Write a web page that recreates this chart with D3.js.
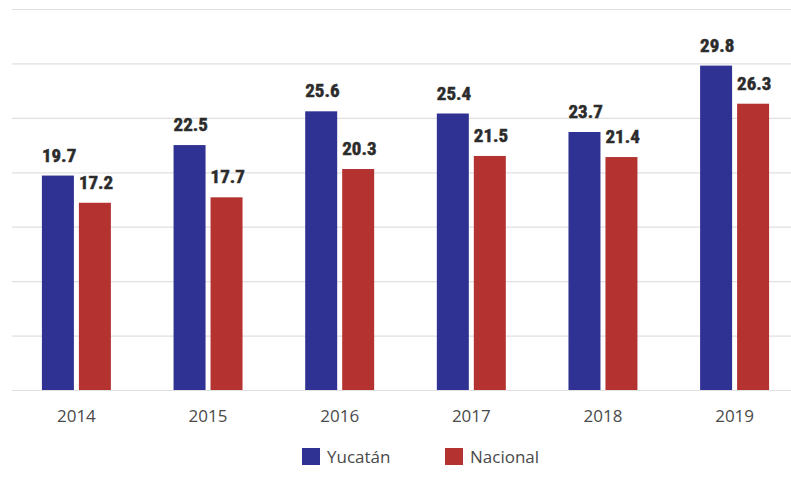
<!DOCTYPE html>
<html>
<head>
<meta charset="utf-8">
<script src="https://cdn.jsdelivr.net/npm/d3@7"></script>
<style>
  html, body { margin: 0; padding: 0; background: #ffffff; }
  svg { display: block; }
</style>
</head>
<body>
<svg id="chart" width="791" height="484"></svg>
<script>
const years = ["2014", "2015", "2016", "2017", "2018", "2019"];
const seriesNames = ["Yucatán", "Nacional"];
const yucatan = [19.7, 22.5, 25.6, 25.4, 23.7, 29.8];
const nacional = [17.2, 17.7, 20.3, 21.5, 21.4, 26.3];
const gridTicks = [0, 5, 10, 15, 20, 25, 30, 35];
const colors = ["#2f3193", "#b43331"];

const svg = d3.select("#chart");
const W = 791;

const x0 = d3.scaleBand().domain(years).range([9, 802]).paddingInner(0.476).paddingOuter(0.25);
const x1 = d3.scaleBand().domain(seriesNames).range([0, x0.bandwidth()]).paddingInner(0.135).paddingOuter(0);
const y = d3.scaleLinear().domain([0, 35]).range([390, 9]);
const color = d3.scaleOrdinal().domain(seriesNames).range(colors);

// gridlines
const yAxis = d3.axisLeft(y).tickValues(gridTicks).tickSize(-(W - 12)).tickFormat("");
const g = svg.append("g").attr("transform", "translate(12,0)").call(yAxis);
g.select(".domain").remove();
g.selectAll(".tick line").attr("stroke", "#e0e0e0").attr("stroke-width", 1.2);

const rows = years.map((yr, i) => ({ year: yr, values: [
  { key: seriesNames[0], value: yucatan[i] },
  { key: seriesNames[1], value: nacional[i] }
]}));

const groups = svg.append("g").selectAll("g").data(rows).join("g")
  .attr("transform", d => `translate(${x0(d.year)},0)`);

groups.selectAll("rect").data(d => d.values).join("rect")
  .attr("x", d => x1(d.key))
  .attr("y", d => y(d.value))
  .attr("width", x1.bandwidth())
  .attr("height", d => y(0) - y(d.value))
  .attr("fill", d => color(d.key));

groups.selectAll("text.val").data(d => d.values).join("text")
  .attr("class", "val")
  .attr("x", d => x1(d.key))
  .attr("y", d => y(d.value) - 14)
  .attr("font-family", "'Liberation Sans Narrow', 'Roboto Condensed', Roboto, sans-serif")
  .attr("font-weight", "bold")
  .attr("font-size", 19)
  .attr("fill", "#2b2b2b")
  .attr("stroke", "#2b2b2b")
  .attr("stroke-width", 0.5)
  .text(d => d.value.toFixed(1));

// x axis labels
const xAxis = d3.axisBottom(x0).tickSize(0).tickPadding(0);
const xg = svg.append("g").attr("transform", "translate(0,390)").call(xAxis);
xg.select(".domain").remove();
xg.selectAll("text")
  .attr("y", 32)
  .attr("dy", 0)
  .attr("font-family", "'Open Sans', sans-serif")
  .attr("font-size", 17)
  .attr("fill", "#4a4a4a");

// legend
const legendX = [302, 445];
const legend = svg.append("g").selectAll("g").data(seriesNames).join("g")
  .attr("transform", (d, i) => `translate(${legendX[i]},448)`);
legend.append("rect").attr("width", 18).attr("height", 17).attr("fill", d => color(d));
legend.append("text")
  .attr("x", 25).attr("y", 15)
  .attr("font-family", "'Open Sans', sans-serif")
  .attr("font-size", 17)
  .attr("fill", "#4a4a4a")
  .text(d => d);
</script>
</body>
</html>
